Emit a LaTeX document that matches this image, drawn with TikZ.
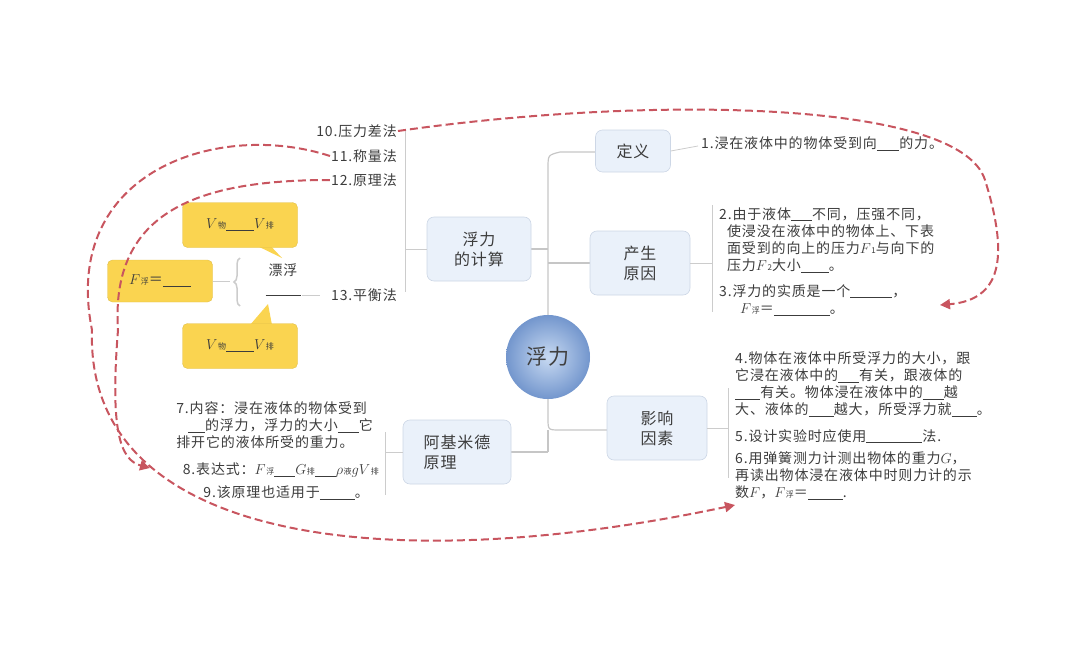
\documentclass[tikz,border=0pt]{standalone}
\usepackage{fontspec}
\setmainfont{Noto Sans CJK SC}[LetterSpace=6]
\usetikzlibrary{arrows.meta,shapes.callouts,decorations.pathreplacing}
\newcommand\bk[1]{\underline{\hspace{#1}}}
\newcommand\qf[2]{$#1$\kern.5pt{\fontsize{8}{8}\selectfont #2}}
\definecolor{dashred}{RGB}{200,85,95}
\definecolor{boxedge}{RGB}{205,215,230}
\definecolor{boxfill}{RGB}{234,241,250}
\definecolor{yel}{RGB}{250,212,80}
\definecolor{txt}{RGB}{60,60,60}
\definecolor{ballin}{RGB}{200,218,242}
\definecolor{ballout}{RGB}{115,150,205}
\tikzset{
  topic/.style={draw=boxedge,fill=boxfill,rounded corners=7pt,minimum height=64pt,align=left,font=\fontsize{16}{20}\selectfont,text=txt,line width=0.6pt},
  leaf/.style={font=\fontsize{14}{17.3}\selectfont,text=txt,inner sep=1pt},
  branch/.style={draw=gray!45,line width=1.2pt},
  thin/.style={draw=gray!40,line width=0.8pt},
  yb/.style={fill=yel,draw=yel!90!black,rounded corners=5pt,font=\fontsize{14}{15}\selectfont,text=txt},
  redarc/.style={draw=dashred,line width=2pt,dash pattern=on 8pt off 4pt},
}
\begin{document}
\begin{tikzpicture}[x=1pt,y=-1pt]
\useasboundingbox (0,0) rectangle (1080,669);
% spine
\draw[branch] (548,320) -- (548,168) .. controls (548,155) .. (560,152) -- (596,152);
\draw[branch] (548,263) -- (592,263);
\draw[branch] (531,249) -- (548,249);
\draw[branch] (548,398) -- (548,418) .. controls (548,430) .. (560,430) -- (608,430);
\draw[branch] (511,452) -- (548,452) (548,430) -- (548,452);
% centre
\shade[inner color=ballin,outer color=ballout] (548,357) circle (42);
\node[font=\fontsize{21}{22}\selectfont,text=black!75] (c) at (548,357) {浮力};
% topics
\node[topic,minimum width=75pt,minimum height=42pt] (dy) at (633,151) {定义};
\node[topic,minimum width=100pt] (cs) at (640,263) {产生\\原因};
\node[topic,minimum width=100pt] (yx) at (657,428) {影响\\因素};
\node[topic,minimum width=108pt] (aj) at (457,452) {阿基米德\\原理};
\node[topic,minimum width=104pt,align=center] (js) at (479,249) {浮力\\的计算};
% leaves right
\draw[thin] (dy.east) -- (698,146);
\node[leaf,anchor=west] (t1) at (700,144) {1.浸在液体中的物体受到向\bk{1.6em}的力。};
\draw[thin] (cs.east) -- (712,263) (712,205) -- (712,312);
\node[leaf,anchor=north west,align=left] (t2) at (718,206) {2.由于液体\bk{1.5em}不同，压强不同，\\\ \ 使浸没在液体中的物体上、下表\\\ \ 面受到的向上的压力\qf{F}{1}与向下的\\\ \ 压力\qf{F}{2}大小\bk{2em}。};
\node[leaf,anchor=north west,align=left] (t3) at (718,283) {3.浮力的实质是一个\bk{3em}，\\\hspace{1.5em}\qf{F}{浮}＝\bk{4em}。};
\draw[thin] (yx.east) -- (728,428) (728,388) -- (728,478);
\node[leaf,anchor=north west,align=left] (t4) at (734,350) {4.物体在液体中所受浮力的大小，跟\\它浸在液体中的\bk{1.5em}有关，跟液体的\\\bk{1.8em}有关。物体浸在液体中的\bk{1.5em}越\\大、液体的\bk{1.8em}越大，所受浮力就\bk{1.8em}。};
\node[leaf,anchor=north west] (t5) at (734,428) {5.设计实验时应使用\bk{4em}法.};
\node[leaf,anchor=north west,align=left] (t6) at (734,450) {6.用弹簧测力计测出物体的重力$G$，\\再读出物体浸在液体中时则力计的示\\数$F$，\qf{F}{浮}＝\bk{2.5em}.};
% leaves left (Archimedes)
\draw[thin] (aj.west) -- (385,452) (385,432) -- (385,495);
\node[leaf,anchor=north east,align=left] (t7) at (374,400) {7.内容：浸在液体的物体受到\\\ \ \ \bk{1.2em}的浮力，浮力的大小\bk{1.5em}它\\排开它的液体所受的重力。};
\node[leaf,anchor=east] (t8) at (380,470) {8.表达式：\qf{F}{浮}\bk{1.5em}\qf{G}{排}\bk{1.5em}\qf{\rho}{液}$gV$\kern.5pt{\fontsize{8}{8}\selectfont 排}};
\node[leaf,anchor=east] (t9) at (370,493) {9.该原理也适用于\bk{2.5em}。};
% calc leaves
\draw[thin] (js.west) -- (405,249) (405,130) -- (405,292);
\node[leaf,anchor=east] (t10) at (398,131) {10.压力差法};
\node[leaf,anchor=east] (t11) at (398,156) {11.称量法};
\node[leaf,anchor=east] (t12) at (398,180) {12.原理法};
\node[leaf,anchor=east] (t13) at (398,295) {13.平衡法};
% float sub-diagram
\node[leaf] (pf) at (283,270) {漂浮};
\node[leaf] (pb) at (283,295) {\bk{2.5em}};
\draw[thin] (pb.east) -- (320,295);
\fill[yel] (245,240) -- (265,240) -- (282,258) -- cycle;
\fill[yel] (250,325) -- (272,325) -- (268,304) -- cycle;
\node[yb,minimum width=115pt,minimum height=45pt] (v1) at (240,225) {\qf{V}{物}\bk{2em}\qf{V}{排}};
\node[yb,minimum width=105pt,minimum height=42pt] (f1) at (160,281) {\qf{F}{浮}＝\bk{2em}};
\node[yb,minimum width=115pt,minimum height=45pt] (v2) at (240,346) {\qf{V}{物}\bk{2em}\qf{V}{排}};
\draw[gray!40,line width=1.5pt,decorate,decoration={brace,amplitude=6pt}] (240,306) -- (240,258);
\draw[thin] (f1.east) -- (230,281);
% dashed curves
\draw[redarc,-{Triangle[length=10pt,width=10pt]}] (t10.east) .. controls (650,95) and (960,100) .. (985,180) .. controls (1010,260) and (1000,300) .. (940,305);
\draw[redarc,-{Triangle[length=10pt,width=10pt]}] (t11.west) .. controls (220,120) and (60,170) .. (92,330) .. controls (85,540) and (380,580) .. (735,505);
\draw[redarc,-{Triangle[length=10pt,width=10pt]}] (t12.west) .. controls (200,180) and (110,210) .. (118,330) .. controls (110,430) and (120,460) .. (150,468);
\end{tikzpicture}
\end{document}
